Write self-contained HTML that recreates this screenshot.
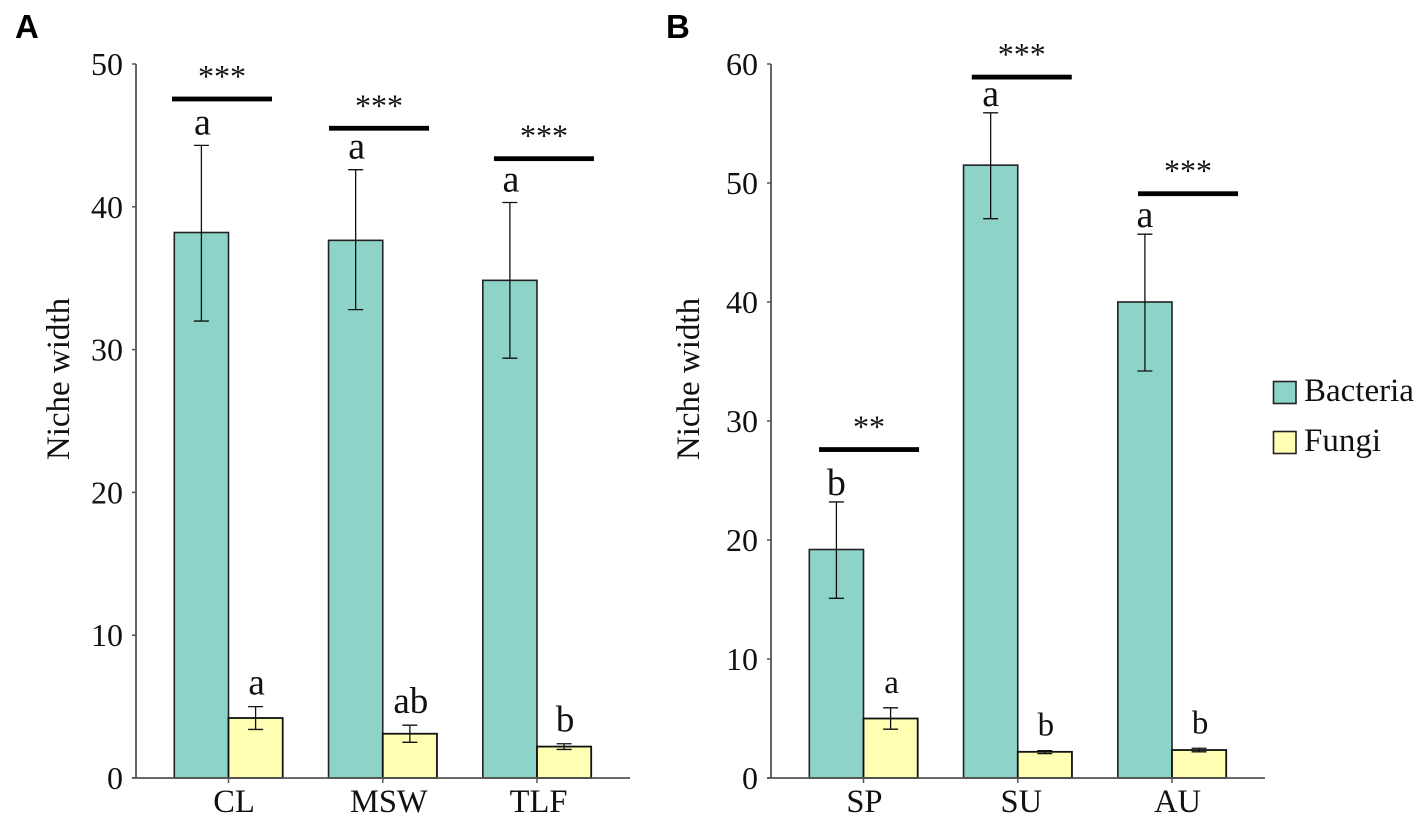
<!DOCTYPE html>
<html lang="en">
<head>
<meta charset="utf-8">
<title>Niche width of bacteria and fungi</title>
<style>
html,body{margin:0;padding:0;background:#fff;width:1425px;height:824px;overflow:hidden}
svg{display:block}
text{font-family:"Liberation Serif",serif;fill:#111}
.panel{font-family:"Liberation Sans",sans-serif;font-weight:bold;font-size:33px;fill:#000}
</style>
</head>
<body>
<svg id="chart" xmlns="http://www.w3.org/2000/svg" width="1425" height="824" viewBox="0 0 1425 824">
  <text class="panel" x="15" y="38">A</text>
  <text class="panel" x="666" y="38">B</text>
  <g>
    <rect x="1273.5" y="381.5" width="22.5" height="22" fill="#8dd3c7" stroke="#222" stroke-width="1.6"/>
    <text x="1304" y="401" font-size="33">Bacteria</text>
    <rect x="1273.5" y="431.5" width="22.5" height="22" fill="#ffffb3" stroke="#222" stroke-width="1.6"/>
    <text x="1304" y="451" font-size="33">Fungi</text>
  </g>
</svg>
<script>
// Panel A: site
const categoriesA = ['CL', 'MSW', 'TLF'];
const bacteriaA = [38.2, 37.65, 34.85];
const bacteriaLowA = [32.0, 32.8, 29.4];
const bacteriaHighA = [44.3, 42.6, 40.3];
const fungiA = [4.2, 3.1, 2.2];
const fungiLowA = [3.4, 2.5, 2.0];
const fungiHighA = [5.0, 3.7, 2.4];
const bacteriaLettersA = ['a', 'a', 'a'];
const fungiLettersA = ['a', 'ab', 'b'];
const significanceA = ['***', '***', '***'];
const sigLevelA = [47.55, 45.5, 43.37];
const sigCenterA = [-0.042, 0.976, 2.045];
const labelCenterA = [0.036, 1.039, 2.01];
const ticksA = [0, 10, 20, 30, 40, 50];

// Panel B: season
const categoriesB = ['SP', 'SU', 'AU'];
const bacteriaB = [19.2, 51.5, 40.0];
const bacteriaLowB = [15.1, 47.0, 34.2];
const bacteriaHighB = [23.2, 55.9, 45.7];
const fungiB = [5.0, 2.2, 2.35];
const fungiLowB = [4.1, 2.05, 2.2];
const fungiHighB = [5.9, 2.3, 2.5];
const bacteriaLettersB = ['b', 'a', 'a'];
const fungiLettersB = ['a', 'b', 'b'];
const significanceB = ['**', '***', '***'];
const sigLevelB = [27.6, 58.9, 49.1];
const sigCenterB = [0.036, 1.026, 2.104];
const labelCenterB = [0.006, 1.023, 2.036];
const ticksB = [0, 10, 20, 30, 40, 50, 60];

const NS = 'http://www.w3.org/2000/svg';
const root = document.getElementById('chart');

function make(parent, tag, attrs, text) {
  const el = document.createElementNS(NS, tag);
  for (const k in attrs) el.setAttribute(k, attrs[k]);
  if (text !== undefined) el.textContent = text;
  parent.appendChild(el);
  return el;
}

function drawPanel(p) {
  const yTop = 64, yBase = 778, barW = 54.2, step = 154.25;
  const maxV = p.ticks[p.ticks.length - 1];
  const y = v => yBase - (v / maxV) * (yBase - yTop);
  const x = i => p.firstCenter + i * step;

  const g = make(root, 'g', {});
  
  

  // bars
  p.categories.forEach((c, i) => {
    const b = make(g, 'rect', {x: x(i) - barW, y: y(p.bacteria[i]), width: barW, height: yBase - y(p.bacteria[i]), fill: '#8dd3c7', stroke: '#222', 'stroke-width': 1.6});
    
    
    const f = make(g, 'rect', {x: x(i), y: y(p.fungi[i]), width: barW, height: yBase - y(p.fungi[i]), fill: '#ffffb3', stroke: '#111', 'stroke-width': 1.8});
    
    
  });

  // error bars + letters
  function errorBar(cx, lo, hi, name) {
    const e = make(g, 'path', {d: `M${cx} ${y(lo)}V${y(hi)}M${cx - 7.5} ${y(hi)}h15M${cx - 7.5} ${y(lo)}h15`, fill: 'none', stroke: '#111', 'stroke-width': 1.3});
    
    
  }
  function letter(cx, hi, str, lift, size, name) {
    const t = make(g, 'text', {x: cx, y: y(hi) - lift, 'text-anchor': 'middle', 'font-size': size}, str);
    
    
  }
  p.categories.forEach((c, i) => {
    const key = c.toLowerCase();
    errorBar(x(i) - barW / 2, p.bacteriaLow[i], p.bacteriaHigh[i], 'error-bar-bacteria-' + key);
    errorBar(x(i) + barW / 2, p.fungiLow[i], p.fungiHigh[i], 'error-bar-fungi-' + key);
    letter(x(i) - barW / 2 + p.letterNudge, p.bacteriaHigh[i], p.bacteriaLetters[i], p.bacteriaLift, 38, 'letter-bacteria-' + key);
    letter(x(i) + barW / 2 + 1, p.fungiHigh[i], p.fungiLetters[i], p.fungiLift, p.fungiSize, 'letter-fungi-' + key);

    // significance bracket
    const cx = x(p.sigCenter[i]);
    const s = make(g, 'rect', {x: cx - 50, y: y(p.sigLevel[i]) - 2.4, width: 100, height: 4.8, fill: '#000'});
    
    
    const st = make(g, 'text', {x: cx, y: y(p.sigLevel[i]) - 12, 'text-anchor': 'middle', 'font-size': 32}, p.significance[i]);
    
    
  });

  // axes
  const ya = make(g, 'line', {x1: p.axisX, x2: p.axisX, y1: yTop, y2: yBase, stroke: '#555', 'stroke-width': 1.8});
  
  
  const xa = make(g, 'line', {x1: p.axisX - 4, x2: p.axisEnd, y1: yBase, y2: yBase, stroke: '#555', 'stroke-width': 1.8});
  
  

  p.ticks.forEach(v => {
    const tk = make(g, 'line', {x1: p.axisX - 4, x2: p.axisX, y1: y(v), y2: y(v), stroke: '#555', 'stroke-width': 1.5});
    
    
    const tl = make(g, 'text', {x: p.axisX - 13, y: y(v) + 11, 'text-anchor': 'end', 'font-size': 32}, v);
    
    
  });

  p.categories.forEach((c, i) => {
    const tk = make(g, 'line', {x1: x(i), x2: x(i), y1: yBase, y2: yBase + 5, stroke: '#555', 'stroke-width': 1.5});
    
    
    const tl = make(g, 'text', {x: x(p.labelCenter[i]), y: 812, 'text-anchor': 'middle', 'font-size': 32.5}, c);
    
    
  });

  const title = make(g, 'text', {transform: `translate(${p.titleX},379) rotate(-90)`, 'text-anchor': 'middle', 'font-size': 33}, 'Niche width');
  
  
}

drawPanel({
  name: 'panel-a-chart', categories: categoriesA, bacteria: bacteriaA, bacteriaLow: bacteriaLowA, bacteriaHigh: bacteriaHighA,
  fungi: fungiA, fungiLow: fungiLowA, fungiHigh: fungiHighA, bacteriaLetters: bacteriaLettersA, fungiLetters: fungiLettersA,
  significance: significanceA, sigLevel: sigLevelA, sigCenter: sigCenterA, labelCenter: labelCenterA, ticks: ticksA,
  firstCenter: 228.5, axisX: 136, axisEnd: 630, titleX: 69, bacteriaLift: 11, letterNudge: 1, fungiLift: 12, fungiSize: 37
});
drawPanel({
  name: 'panel-b-chart', categories: categoriesB, bacteria: bacteriaB, bacteriaLow: bacteriaLowB, bacteriaHigh: bacteriaHighB,
  fungi: fungiB, fungiLow: fungiLowB, fungiHigh: fungiHighB, bacteriaLetters: bacteriaLettersB, fungiLetters: fungiLettersB,
  significance: significanceB, sigLevel: sigLevelB, sigCenter: sigCenterB, labelCenter: labelCenterB, ticks: ticksB,
  firstCenter: 863.5, axisX: 771, axisEnd: 1265, titleX: 699, bacteriaLift: 7, letterNudge: 0, fungiLift: 15, fungiSize: 33
});
</script>
</body>
</html>
